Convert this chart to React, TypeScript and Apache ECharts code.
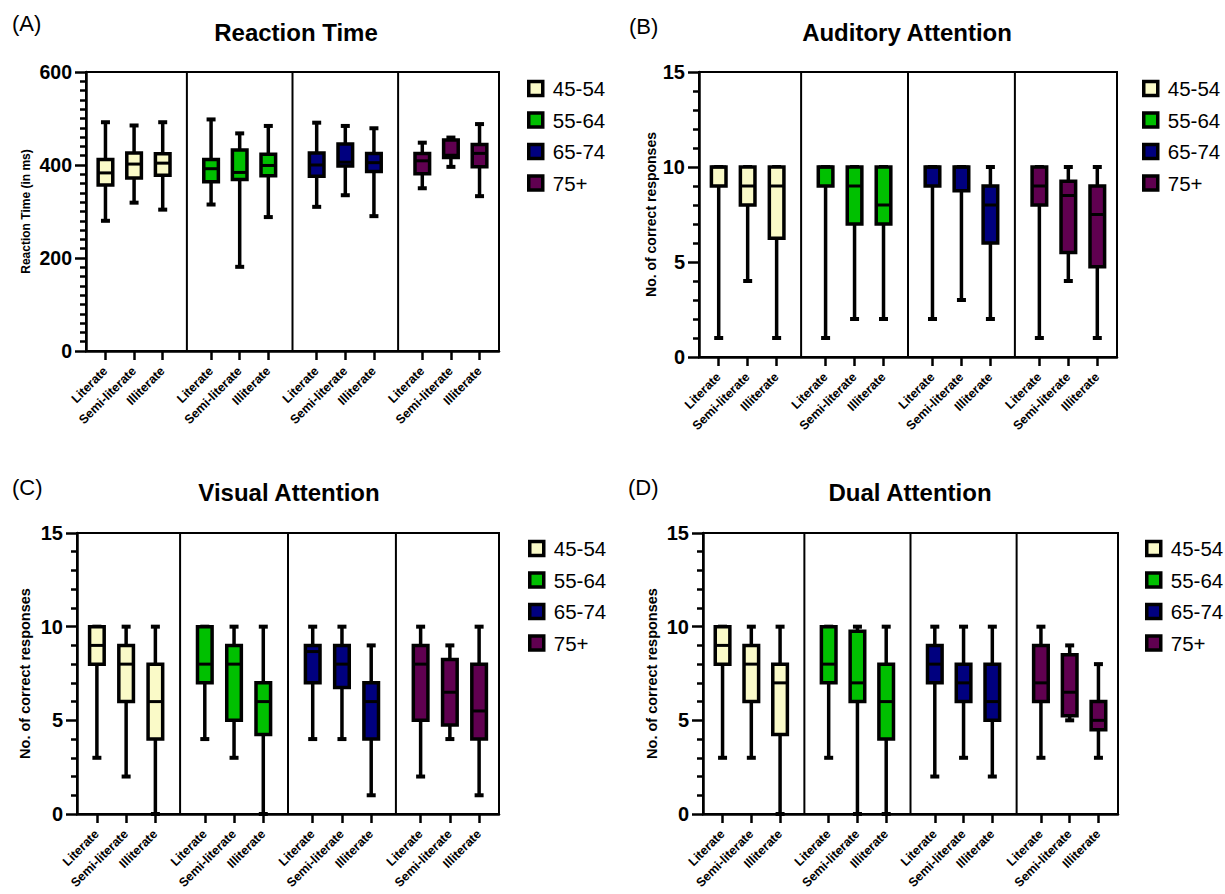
import React, { useEffect, useRef } from "react";
import * as echarts from "echarts";

const ageGroups = ["45-54", "55-64", "65-74", "75+"];
const literacy = ["Literate", "Semi-literate", "Illiterate"];
const ageColors = ["#FAFAC8", "#00C000", "#00007F", "#600050"];

// [min, Q1, median, Q3, max] per age group -> per literacy level
const reactionTime = [
  [[280, 357, 383, 412, 492], [319, 372, 402, 426, 485], [304, 378, 404, 424, 492]],
  [[315, 364, 392, 412, 498], [181, 369, 384, 432, 468], [288, 377, 399, 423, 484]],
  [[310, 376, 400, 426, 491], [335, 398, 406, 445, 484], [290, 386, 405, 425, 479]],
  [[350, 381, 409, 425, 448], [396, 416, 421, 454, 459], [333, 396, 425, 444, 488]],
];
const auditoryAttention = [
  [[1, 9, 10, 10, 10], [4, 8, 9, 10, 10], [1, 6.25, 9, 10, 10]],
  [[1, 9, 10, 10, 10], [2, 7, 9, 10, 10], [2, 7, 8, 10, 10]],
  [[2, 9, 10, 10, 10], [3, 8.75, 10, 10, 10], [2, 6, 8, 9, 10]],
  [[1, 8, 9, 10, 10], [4, 5.5, 8.5, 9.25, 10], [1, 4.75, 7.5, 9, 10]],
];
const visualAttention = [
  [[3, 8, 9, 10, 10], [2, 6, 8, 9, 10], [0, 4, 6, 8, 10]],
  [[4, 7, 8, 10, 10], [3, 5, 8, 9, 10], [0, 4.25, 6, 7, 10]],
  [[4, 7, 8.67, 9, 10], [4, 6.75, 8, 9, 10], [1, 4, 6, 7, 9]],
  [[2, 5, 8, 9, 10], [4, 4.75, 6.5, 8.25, 9], [1, 4, 5.5, 8, 10]],
];
const dualAttention = [
  [[3, 8, 9, 10, 10], [3, 6, 8, 9, 10], [0, 4.25, 7, 8, 10]],
  [[3, 7, 8, 10, 10], [0, 6, 7, 9.75, 10], [0, 4, 6, 8, 10]],
  [[2, 7, 8, 9, 10], [3, 6, 7, 8, 10], [2, 5, 6, 8, 10]],
  [[3, 6, 7, 9, 10], [5, 5.25, 6.5, 8.5, 9], [3, 4.5, 5, 6, 8]],
];

const panelTitles = ["Reaction Time", "Auditory Attention", "Visual Attention", "Dual Attention"];
const panelLetters = ["(A)", "(B)", "(C)", "(D)"];
const yAxisTitles = ["Reaction Time (in ms)", "No. of correct responses", "No. of correct responses", "No. of correct responses"];
const yMax = [600, 15, 15, 15];
const yInterval = [200, 5, 5, 5];
const yMinorSplit = [10, 5, 5, 5];

const FONT = "'Liberation Sans', Arial, Helvetica, sans-serif";
const STRIDE = 3.69;
const X_MIN = -0.68;
const X_MAX = 3 * STRIDE + 2 + 0.68;

const panelData = [reactionTime, auditoryAttention, visualAttention, dualAttention];

const grids = [
  { left: 86, top: 72, width: 413, height: 279 },
  { left: 699, top: 72, width: 418, height: 285 },
  { left: 77, top: 533, width: 422, height: 281 },
  { left: 703, top: 533, width: 415, height: 281 },
];
const nameGaps = [54, 41, 45, 44];
const nameSizes = [12, 14, 14.5, 14.5];
const yLabelSizes = [19.5, 20, 20, 20];
const legendPos = [
  { left: 522, top: 73 },
  { left: 1137, top: 73 },
  { left: 523, top: 533 },
  { left: 1140, top: 533 },
];
const titlePos = [
  { x: 296, y: 32 },
  { x: 907, y: 32 },
  { x: 289, y: 492 },
  { x: 910, y: 492 },
];
const letterPos = [
  { x: 12, y: 23 },
  { x: 629, y: 26 },
  { x: 12, y: 487 },
  { x: 628, y: 487 },
];

const catPositions: number[] = [];
ageGroups.forEach((_, g) => literacy.forEach((_, i) => catPositions.push(g * STRIDE + i)));
const separatorPositions = [1, 2, 3].map((g) => g * STRIDE - (STRIDE - 2) / 2);

function boxRender(params: any, api: any) {
  const x = api.value(0);
  const pMin = api.coord([x, api.value(1)]);
  const pQ1 = api.coord([x, api.value(2)]);
  const pMed = api.coord([x, api.value(3)]);
  const pQ3 = api.coord([x, api.value(4)]);
  const pMax = api.coord([x, api.value(5)]);
  const cx = pMin[0];
  const hb = 7.3;
  const hc = 4.5;
  const color = api.visual("color");
  return {
    type: "group",
    children: [
      { type: "line", shape: { x1: cx, y1: pMax[1], x2: cx, y2: pMin[1] }, style: { stroke: "#000", lineWidth: 3.5 } },
      { type: "line", shape: { x1: cx - hc, y1: pMax[1], x2: cx + hc, y2: pMax[1] }, style: { stroke: "#000", lineWidth: 4 } },
      { type: "line", shape: { x1: cx - hc, y1: pMin[1], x2: cx + hc, y2: pMin[1] }, style: { stroke: "#000", lineWidth: 4 } },
      {
        type: "rect",
        shape: { x: cx - hb, y: pQ3[1], width: hb * 2, height: pQ1[1] - pQ3[1] },
        style: { fill: color, stroke: "#000", lineWidth: 3.5 },
      },
      { type: "line", shape: { x1: cx - hb, y1: pMed[1], x2: cx + hb, y2: pMed[1] }, style: { stroke: "#000", lineWidth: 3 } },
    ],
  };
}

function sepRender(params: any, api: any) {
  const x = api.value(0);
  const p1 = api.coord([x, api.value(1)]);
  const p2 = api.coord([x, api.value(2)]);
  return { type: "line", shape: { x1: p1[0], y1: p1[1], x2: p2[0], y2: p2[1] }, style: { stroke: "#000", lineWidth: 2 } };
}

function buildOption() {
  const xAxis: any[] = [];
  const yAxis: any[] = [];
  const series: any[] = [];
  const legend: any[] = [];
  const graphic: any[] = [];

  panelData.forEach((data, p) => {
    xAxis.push({
      type: "value",
      gridIndex: p,
      min: X_MIN,
      max: X_MAX,
      splitLine: { show: false },
      axisLine: { show: true, onZero: false, lineStyle: { color: "#000", width: 2.5 } },
      axisTick: { show: true, customValues: catPositions, length: 9, lineStyle: { color: "#000", width: 2.5 } },
      axisLabel: {
        show: true,
        customValues: catPositions,
        rotate: 45,
        margin: 18,
        color: "#000",
        fontSize: 12.5,
        fontWeight: "bold",
        fontFamily: FONT,
        formatter: (v: number) => {
          const idx = catPositions.findIndex((c) => Math.abs(c - v) < 1e-6);
          return idx >= 0 ? literacy[idx % 3] : "";
        },
      },
    });
    yAxis.push({
      type: "value",
      gridIndex: p,
      min: 0,
      max: yMax[p],
      interval: yInterval[p],
      name: yAxisTitles[p],
      nameLocation: "middle",
      nameRotate: 90,
      nameGap: nameGaps[p],
      nameTextStyle: { color: "#000", fontSize: nameSizes[p], fontWeight: "bold", fontFamily: FONT },
      splitLine: { show: false },
      axisLine: { show: true, onZero: false, lineStyle: { color: "#000", width: 2.5 } },
      axisTick: { show: true, length: 11, lineStyle: { color: "#000", width: 2.5 } },
      minorTick: { show: true, splitNumber: yMinorSplit[p], length: 6, lineStyle: { color: "#000", width: 2.5 } },
      minorSplitLine: { show: false },
      axisLabel: { color: "#000", fontSize: yLabelSizes[p], fontWeight: "bold", fontFamily: FONT, margin: 14 },
    });

    ageGroups.forEach((age, g) => {
      series.push({
        type: "custom",
        name: age,
        xAxisIndex: p,
        yAxisIndex: p,
        renderItem: boxRender,
        itemStyle: { color: ageColors[g] },
        encode: { x: 0, y: [1, 2, 3, 4, 5] },
        data: data[g].map((vals, i) => [g * STRIDE + i, ...vals]),
        z: 3,
      });
    });
    series.push({
      type: "custom",
      name: "sep" + p,
      xAxisIndex: p,
      yAxisIndex: p,
      renderItem: sepRender,
      encode: { x: 0, y: [1, 2] },
      data: separatorPositions.map((s) => [s, 0, yMax[p]]),
      z: 2,
      silent: true,
    });

    legend.push({
      orient: "vertical",
      left: legendPos[p].left,
      top: legendPos[p].top,
      icon: "rect",
      itemWidth: 14,
      itemHeight: 14,
      itemGap: 10.5,
      selectedMode: false,
      textStyle: { color: "#000", fontSize: 20.5, fontFamily: FONT, lineHeight: 20, padding: [0, 0, 0, 5] },
      data: ageGroups.map((a, g) => ({
        name: a,
        itemStyle: { color: ageColors[g], borderColor: "#000", borderWidth: 3.5 },
      })),
    });

    graphic.push({
      type: "text",
      x: titlePos[p].x,
      y: titlePos[p].y,
      style: {
        text: panelTitles[p],
        fill: "#000",
        fontSize: 24,
        fontWeight: "bold",
        fontFamily: FONT,
        align: "center",
        verticalAlign: "middle",
      },
    });
    graphic.push({
      type: "text",
      x: letterPos[p].x,
      y: letterPos[p].y,
      style: {
        text: panelLetters[p],
        fill: "#000",
        fontSize: 22,
        fontFamily: FONT,
        align: "left",
        verticalAlign: "middle",
      },
    });
  });

  return {
    animation: false,
    backgroundColor: "#fff",
    grid: grids.map((gr) => ({ ...gr, show: true, borderColor: "#000", borderWidth: 2, backgroundColor: "transparent" })),
    xAxis,
    yAxis,
    legend,
    graphic,
    series,
  };
}

export default function App() {
  const ref = useRef<HTMLDivElement>(null);
  useEffect(() => {
    document.body.style.margin = "0";
    if (!ref.current) return;
    const chart = echarts.init(ref.current, undefined, { renderer: "svg" });
    chart.setOption(buildOption() as any);
    return () => chart.dispose();
  }, []);
  return <div ref={ref} style={{ width: 1225, height: 894 }} />;
}
